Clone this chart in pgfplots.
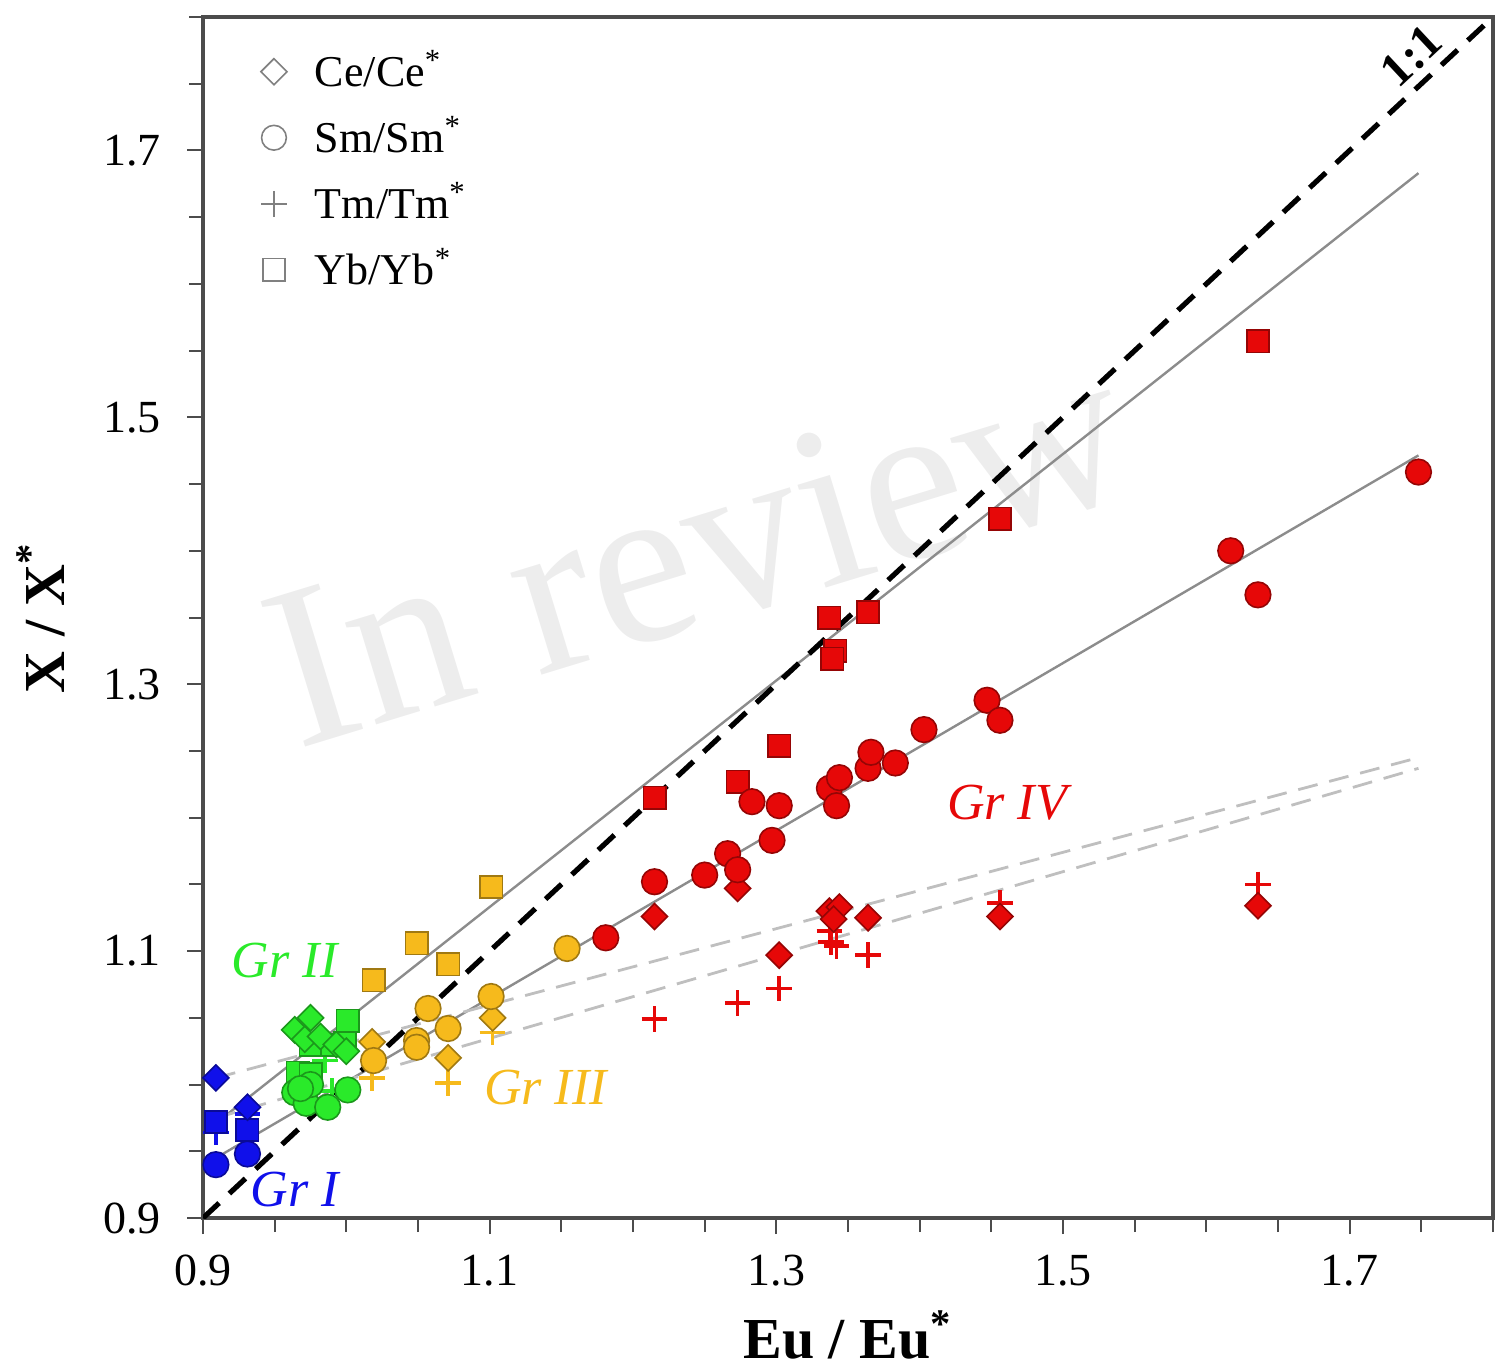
\documentclass[border=0pt]{standalone}
\usepackage{fontspec}
\setmainfont{Liberation Serif}
\usepackage{pgfplots}
\pgfplotsset{compat=1.18}

\definecolor{cblue}{HTML}{1010EA}
\definecolor{cgreen}{HTML}{2AEA2A}
\definecolor{cyellow}{HTML}{F6BA1C}
\definecolor{cred}{HTML}{E60808}

\pgfplotsset{
  ce/.style={only marks, mark=square*, mark size=2.3pt,
    mark options={rotate=45, fill=#1, draw=#1!65!black, line width=0.4pt}},
  sm/.style={only marks, mark=*, mark size=3.2pt,
    mark options={fill=#1, draw=#1!65!black, line width=0.4pt}},
  tm/.style={only marks, mark=+, mark size=3.2pt,
    mark options={draw=#1, line width=0.9pt}},
  yb/.style={only marks, mark=square*, mark size=2.8pt,
    mark options={fill=#1, draw=#1!65!black, line width=0.4pt}},
}

\begin{document}
\begin{tikzpicture}
\begin{axis}[
  scale only axis,
  width=322.5pt, height=300.25pt,
  xmin=0.9, xmax=1.8, ymin=0.9, ymax=1.8,
  xtick={0.9,1.1,1.3,1.5,1.7},
  ytick={0.9,1.1,1.3,1.5,1.7},
  minor xtick={0.95,1.0,1.05,1.15,1.2,1.25,1.35,1.4,1.45,1.55,1.6,1.65,1.75,1.8},
  minor ytick={0.95,1.0,1.05,1.15,1.2,1.25,1.35,1.4,1.45,1.55,1.6,1.65,1.75,1.8},
  tick pos=left, tick align=outside,
  major tick length=4pt, minor tick length=3.5pt,
  tick style={black!70, line width=0.5pt},
  axis line style={black!70, line width=0.8pt},
  ticklabel style={font=\fontsize{11.5}{12}\selectfont},
  xticklabel style={yshift=-1.8pt},
  yticklabel style={xshift=-3pt},
  /pgf/number format/.cd, fixed, fixed zerofill, precision=1, assume math mode=true,
  /pgfplots/.cd,
  xlabel={Eu / Eu\textsuperscript{*}},
  ylabel={X / X\textsuperscript{*}},
  every axis x label/.style={at={(rel axis cs:0.5,-0.1166)}, anchor=base,
    font=\bfseries\fontsize{14.5}{15}\selectfont},
  every axis y label/.style={at={(rel axis cs:-0.126,0.5)}, anchor=center, rotate=90,
    font=\bfseries\fontsize{14.5}{15}\selectfont},
  legend style={at={(rel axis cs:0.035,0.986)}, anchor=north west, draw=none, fill=none,
    font=\fontsize{11}{13}\selectfont, row sep=2pt,
    /tikz/every odd column/.append style={column sep=5pt}},
  legend cell align=left,
]
\coordinate (SW) at (rel axis cs:0,0);
\coordinate (NE) at (rel axis cs:1,1);

% watermark
\node[rotate=17, text=black!7, font=\fontsize{58}{58}\selectfont] at (axis cs:1.245,1.402) {In review};

% Gr I
\addplot[tm=cblue, forget plot] coordinates {(0.909,0.964) (0.931,0.978)};
\addplot[yb=cblue, forget plot] coordinates {(0.909,0.972) (0.931,0.966)};
\addplot[ce=cblue, forget plot] coordinates {(0.909,1.005) (0.931,0.983)};
\addplot[sm=cblue, forget plot] coordinates {(0.909,0.940) (0.931,0.948)};

% Gr II
\addplot[tm=cgreen, forget plot] coordinates {(0.975,1.002) (0.990,0.995) (0.985,1.018)};
\addplot[yb=cgreen, forget plot] coordinates {(1.001,1.048) (0.975,1.030) (0.990,1.030) (0.999,1.031) (0.966,1.009) (0.975,1.008)};
\addplot[ce=cgreen, forget plot] coordinates {(0.964,1.041) (0.975,1.050) (0.971,1.034) (0.982,1.036) (0.993,1.030) (1.000,1.025)};
\addplot[sm=cgreen, forget plot] coordinates {(0.964,0.994) (0.972,0.986) (0.987,0.983) (1.001,0.996) (0.975,1.000) (0.968,0.997)};

% Gr III
\addplot[tm=cyellow, forget plot] coordinates {(1.018,1.005) (1.071,1.001) (1.102,1.039)};
\addplot[yb=cyellow, forget plot] coordinates {(1.019,1.078) (1.049,1.106) (1.071,1.090) (1.101,1.148)};
\addplot[ce=cyellow, forget plot] coordinates {(1.018,1.032) (1.071,1.020) (1.102,1.050)};
\addplot[sm=cyellow, forget plot] coordinates {(1.019,1.018) (1.049,1.033) (1.049,1.028) (1.057,1.057) (1.071,1.042) (1.101,1.066) (1.154,1.102)};

% Gr IV
\addplot[tm=cred, forget plot] coordinates {(1.215,1.049) (1.273,1.061) (1.302,1.072) (1.337,1.115) (1.338,1.107) (1.342,1.104) (1.364,1.097) (1.456,1.136) (1.636,1.150)};
\addplot[yb=cred, forget plot] coordinates {(1.215,1.215) (1.273,1.227) (1.302,1.254) (1.337,1.350) (1.364,1.354) (1.341,1.325) (1.339,1.319) (1.456,1.424) (1.636,1.557)};
\addplot[ce=cred, forget plot] coordinates {(1.215,1.126) (1.273,1.147) (1.302,1.097) (1.337,1.130) (1.344,1.133) (1.340,1.124) (1.364,1.125) (1.456,1.126) (1.636,1.134)};
\addplot[sm=cred, forget plot] coordinates {(1.181,1.110) (1.215,1.152) (1.250,1.157) (1.266,1.173) (1.273,1.161) (1.283,1.212) (1.297,1.183) (1.302,1.209) (1.337,1.222) (1.344,1.230) (1.342,1.209) (1.364,1.237) (1.366,1.249) (1.383,1.241) (1.403,1.266) (1.447,1.288) (1.456,1.273) (1.617,1.400) (1.636,1.367) (1.748,1.459)};

% regression lines
\addplot[black!45, line width=0.6pt, forget plot] coordinates {(0.909,0.971) (1.748,1.683)};
\addplot[black!45, line width=0.6pt, forget plot] coordinates {(0.909,0.945) (1.748,1.4715)};
\addplot[black!25, line width=0.7pt, dash pattern=on 5pt off 3pt, forget plot] coordinates {(0.909,1.005) (1.748,1.245)};
\addplot[black!25, line width=0.7pt, dash pattern=on 5pt off 3pt, forget plot] coordinates {(0.909,0.975) (1.748,1.237)};

% 1:1 line
\addplot[black, line width=1.3pt, dash pattern=on 5.5pt off 3.5pt, forget plot] coordinates {(0.9,0.9) (1.8,1.8)};
\node[rotate=43, anchor=south, inner sep=2.5pt, font=\bfseries\fontsize{12}{12}\selectfont] at (axis cs:1.756,1.756) {1:1};

% group labels
\node[text=cblue, font=\itshape\fontsize{13}{13}\selectfont] at (axis cs:0.964,0.921) {Gr I};
\node[text=cgreen, font=\itshape\fontsize{13}{13}\selectfont] at (axis cs:0.957,1.093) {Gr II};
\node[text=cyellow, font=\itshape\fontsize{13}{13}\selectfont] at (axis cs:1.139,0.998) {Gr III};
\node[text=cred, font=\itshape\fontsize{13}{13}\selectfont] at (axis cs:1.461,1.211) {Gr IV};

% legend
\addlegendimage{only marks, mark=square, mark size=2.3pt, mark options={rotate=45, draw=black!50, line width=0.4pt}}
\addlegendentry{Ce/Ce\textsuperscript{*}}
\addlegendimage{only marks, mark=o, mark size=3.1pt, mark options={draw=black!50, line width=0.4pt}}
\addlegendentry{Sm/Sm\textsuperscript{*}}
\addlegendimage{only marks, mark=+, mark size=3.2pt, mark options={draw=black!50, line width=0.4pt}}
\addlegendentry{Tm/Tm\textsuperscript{*}}
\addlegendimage{only marks, mark=square, mark size=2.8pt, mark options={draw=black!50, line width=0.4pt}}
\addlegendentry{Yb/Yb\textsuperscript{*}}
\end{axis}
\pgfresetboundingbox
\path[use as bounding box] ([shift={(-50.75pt,-37.25pt)}]SW) rectangle ([shift={(0.5pt,4.25pt)}]NE);
\end{tikzpicture}
\end{document}
